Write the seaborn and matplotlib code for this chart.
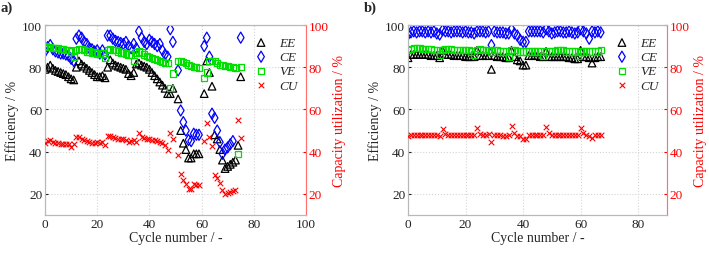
import numpy as np
import pandas as pd
import seaborn as sns
import matplotlib.pyplot as plt

nan = np.nan

# ---- panel a data (cycles 0..75) ----
ee_a = [79, 80, 81, 79.5, 78.5, 78, 77.5, 77, 76.5, 75.5, 74.5, 74,
        80, 83, 81.5, 80.5, 79.5, 78.5, 77.5, 76.5, 75.5, 75.5, 76, 75,
        80, 83.5, 82, 81, 80.5, 80, 79.5, 79, 77, 76, 77.5,
        81.5, 82, 81, 80.5, 80, 79, 77.5, 76, 74.5, 73, 71.5, 70, 67.5, 67.5, 70, nan,
        65, 50, 44, 41, 37, 37, 39, 39, 39, nan,
        67.5, 83, 77.5, 71, 48, 46, 41, 36, 32, 33, 34, 35, 36, 43, 75.5]
ce_a = [87.5, 89.5, 90.5, 88.5, 87.5, 87, 86.5, 86.5, 86, 85.5, 84, 83,
        93.5, 95, 94, 92, 91, 89, 88.5, 87.5, 88, 86.5, 88, 86,
        95, 95, 93.5, 92.5, 92, 91.5, 91, 92, 90, 89, 91,
        89, 97, 94, 92, 91, 93, 92, 91, 90, 91, 88, 86, 85, 98, 92, nan,
        78.5, 59.5, 54, 50, 45.5, 45, 48.5, 48, 48, nan,
        90, 94, 85, 58, 56, 50, 44.5, 39, 41, 42, 43.5, 45, nan, nan, 94]
ve_a = [90, 89.5, 89.5, 89, 89, 89, 88.5, 88.5, 88, 88, 87.5, 85,
        88, 88.5, 88.5, 88, 87.5, 87.5, 87, 87, 86.5, 86.5, 86.5, 84.5,
        88, 88.5, 88, 88, 87.5, 87, 87, 86.5, 86, 86, 83,
        87, 87.5, 87, 86, 85.5, 85, 84.5, 84, 83.5, 83, 82.5, 82, 82, 70, 77, nan,
        83, 83, 82.5, 82, 81, 80.5, 80, 80, 79.5, nan,
        75, 77.5, 83, 83, 83, 82, 81, 81, 80.5, 80.5, 80, 80, 79.5, 39, 80]
cu_a = [44, 45, 45.5, 44.5, 44, 44, 43.8, 43.8, 43.5, 43.5, 42, 43.5,
        47, 47, 46, 45.5, 45, 44.5, 44, 44, 44.5, 44, 44.5, 43,
        47.5, 47.5, 47, 46.5, 46, 46, 46, 45.5, 44.5, 45, 45.5,
        44.5, 49, 47, 46.5, 46, 46, 45.5, 45.5, 45, 44.5, 44, 43, 41, 49, 46, nan,
        38.5, 29.5, 26.5, 24.5, 22.5, 22.5, 24.5, 24, 24, nan,
        45, 53.5, 47, 42.5, 29, 27.5, 25, 22, 20, 20.3, 20.8, 21.3, 22, 55, 46.5]
cycles_a = list(range(len(ee_a)))

# ---- panel b data (cycles 0..67) ----
ee_b = [84.5, 86, 86, 86, 86, 86, 86, 86, 85.5, 85.5, 85.5, 84.5,
        88, 86, 86, 86, 85.5, 85.5, 85.5, 85.5, 85, 85, 85, 85,
        88, 85.5, 85.5, 85.5, 85.5, 79, 85.5, 85, 85, 85, 84.5, 84.5,
        88, 85, 83.5, 83, 81, 81, 85.5, 85.5, 85.5, 85.5, 85, 85,
        87.5, 85, 85, 85, 85, 85, 85, 85, 84.5, 84.5, 84, 84,
        88, 85, 85, 84.5, 82, 84.5, 85, 85]
ce_b = [95.5, 96.5, 97, 96.5, 97, 97, 96.5, 97, 96.5, 97, 96, 95.5,
        97.5, 97, 97, 96.5, 97, 97, 97, 96.5, 97, 96.5, 96.5, 96,
        97, 97, 97, 96.5, 97, 90.5, 97, 96.5, 96.5, 96.5, 96, 96,
        98, 96, 95, 93, 92, 92, 97, 97, 97, 97, 97, 96.5,
        98, 97, 96, 96.5, 97, 97, 96.5, 96.5, 97, 96.5, 96, 96.5,
        98, 97, 96, 93.5, 97, 96.5, 97, 96.5]
ve_b = [88, 88.5, 89, 89, 89, 88.5, 88.5, 88.5, 88.5, 88, 88, 86,
        88, 88.5, 88.5, 88.5, 88, 88, 88, 88, 88, 88, 87.5, 86,
        88, 88.5, 88, 88, 88, 87.5, 88, 88, 87.5, 87.5, 87.5, 85,
        88, 88, 87.5, 87.5, 87.5, 87.5, 87.5, 87.5, 87.5, 87.5, 87.5, 85.5,
        87.5, 87.5, 87.5, 87.5, 88, 88, 88, 87.5, 87.5, 87.5, 87.5, 85.5,
        87.5, 87.5, 87.5, 87.5, 87.5, 87.5, 87.5, 88]
cu_b = [47.5, 48, 48, 48, 48, 48, 48, 48, 48, 48, 48, 47.5,
        50.5, 48.5, 48, 48, 48, 48, 48, 48, 48, 48, 48, 48,
        51, 48.5, 48, 48, 48.5, 44.5, 48, 48, 48, 47.5, 47.5, 48,
        52, 49, 47.5, 47.5, 46, 46, 48, 48, 48, 48, 48, 48,
        51.5, 49, 48, 48, 48, 48, 48, 48, 48, 48, 48, 48,
        51, 49, 48, 47.5, 46.5, 48, 48, 48]
cycles_b = list(range(len(ee_b)))

sns.set_style("white")
plt.rcParams['font.family'] = ['Liberation Serif', 'DejaVu Serif']
plt.rcParams['mathtext.fontset'] = 'stix'

fig = plt.figure(figsize=(7.09, 2.55), dpi=100)
ax_a = fig.add_axes([0.0635, 0.153, 0.368, 0.745])
ax_b = fig.add_axes([0.5755, 0.153, 0.365, 0.745])


def draw_panel(ax, cyc, ee, ce, ve, cu, xmax, tag):
    df = pd.DataFrame({'cycle': cyc, 'EE': ee, 'CE': ce, 'VE': ve, 'CU': cu})
    sns.scatterplot(data=df, x='cycle', y='EE', marker='^', s=30, facecolor='none',
                    edgecolor='black', linewidth=0.9, ax=ax, label='EE', zorder=3)
    sns.scatterplot(data=df, x='cycle', y='CE', marker='d', s=32, facecolor='none',
                    edgecolor='#0000ff', linewidth=0.9, ax=ax, label='CE', zorder=3)
    sns.scatterplot(data=df, x='cycle', y='VE', marker='s', s=20, facecolor='none',
                    edgecolor='#00e000', linewidth=0.9, ax=ax, label='VE', zorder=3)
    ax2 = ax.twinx()
    sns.scatterplot(data=df, x='cycle', y='CU', marker='x', s=16, color='red',
                    linewidth=0.8, ax=ax2, label='CU', zorder=3)

    for a in (ax, ax2):
        a.set_xlim(0, xmax)
        a.set_ylim(10, 100)
        a.set_yticks([20, 40, 60, 80, 100])
    ax.set_xticks(range(0, xmax + 1, 20))
    ax.grid(True, color='#d4d4d4', linestyle=':', linewidth=0.8)
    ax.set_axisbelow(True)

    ax.set_xlabel('Cycle number / -', fontsize=10, labelpad=1)
    ax.set_ylabel('Efficiency / %', fontsize=10, labelpad=2)
    ax2.set_ylabel('Capacity utilization / %', fontsize=10, color='red', labelpad=3)

    ax.tick_params(axis='both', labelsize=9.5, direction='in', length=2,
                   colors='#222222', pad=2)
    ax2.tick_params(axis='y', labelsize=9.5, direction='in', length=2,
                    colors='red', pad=2)
    for a in (ax, ax2):
        for sp in a.spines.values():
            sp.set_color('#b8b8b8')
            sp.set_linewidth(0.8)
    ax2.spines['right'].set_color('#ff7070')

    h1, l1 = ax.get_legend_handles_labels()
    h2, l2 = ax2.get_legend_handles_labels()
    if ax2.get_legend():
        ax2.get_legend().remove()
    ax.legend(h1 + h2, l1 + l2, loc='upper right', bbox_to_anchor=(1.0, 0.98),
              frameon=False, prop={'style': 'italic', 'size': 9.5},
              labelspacing=0.15, handletextpad=0.4, borderaxespad=0.2)

    ax.text(-0.17, 1.13, tag, transform=ax.transAxes, fontsize=10.5,
            fontweight='bold', va='top')


draw_panel(ax_a, cycles_a, ee_a, ce_a, ve_a, cu_a, 100, 'a)')
draw_panel(ax_b, cycles_b, ee_b, ce_b, ve_b, cu_b, 90, 'b)')

fig.savefig('out.png', dpi=100)
